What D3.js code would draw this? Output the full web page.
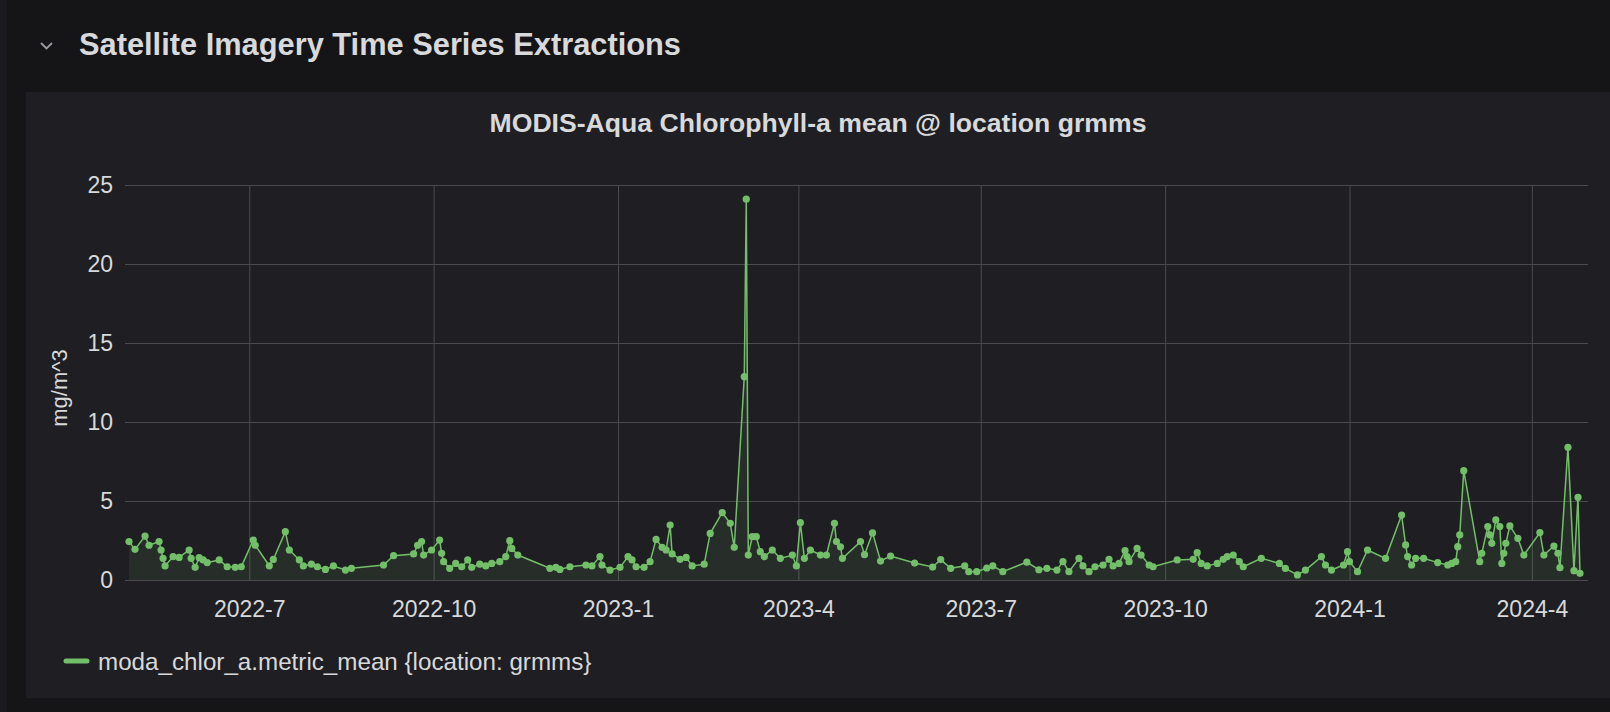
<!DOCTYPE html>
<html>
<head>
<meta charset="utf-8">
<script src="https://cdn.jsdelivr.net/npm/d3@7"></script>
<style>
  body { margin: 0; background: #141417; }
  svg text { font-family: "Liberation Sans", Arial, sans-serif; }
</style>
</head>
<body>
<svg id="chart" width="1610" height="712"></svg>
<script>
// chlorophyll-a mean readings (mg/m^3)
const dates = [
  "2022-05-02","2022-05-05","2022-05-10","2022-05-12","2022-05-17","2022-05-18","2022-05-19","2022-05-20",
  "2022-05-24","2022-05-27","2022-06-01","2022-06-02","2022-06-04","2022-06-06","2022-06-08","2022-06-10",
  "2022-06-16","2022-06-20","2022-06-24","2022-06-27","2022-07-03","2022-07-04","2022-07-11","2022-07-13",
  "2022-07-19","2022-07-21","2022-07-26","2022-07-28","2022-08-01","2022-08-04","2022-08-08","2022-08-12",
  "2022-08-18","2022-08-21","2022-09-06","2022-09-11","2022-09-21","2022-09-23","2022-09-25","2022-09-26",
  "2022-09-30","2022-10-04","2022-10-05","2022-10-06","2022-10-09","2022-10-12","2022-10-15","2022-10-18",
  "2022-10-20","2022-10-24","2022-10-27","2022-10-30","2022-11-03","2022-11-06","2022-11-08","2022-11-09",
  "2022-11-12","2022-11-28","2022-12-01","2022-12-03","2022-12-08","2022-12-16","2022-12-19","2022-12-23",
  "2022-12-24","2022-12-28","2023-01-02","2023-01-06","2023-01-08","2023-01-10","2023-01-14","2023-01-17",
  "2023-01-20","2023-01-23","2023-01-25","2023-01-27","2023-01-28","2023-02-01","2023-02-04","2023-02-07",
  "2023-02-13","2023-02-16","2023-02-22","2023-02-26","2023-02-28","2023-03-05","2023-03-06","2023-03-07",
  "2023-03-09","2023-03-11","2023-03-13","2023-03-15","2023-03-19","2023-03-23","2023-03-29","2023-03-31",
  "2023-04-02","2023-04-04","2023-04-07","2023-04-12","2023-04-15","2023-04-19","2023-04-20","2023-04-22",
  "2023-04-23","2023-05-02","2023-05-04","2023-05-08","2023-05-12","2023-05-17","2023-05-29","2023-06-07",
  "2023-06-11","2023-06-16","2023-06-23","2023-06-25","2023-06-29","2023-07-04","2023-07-07","2023-07-12",
  "2023-07-24","2023-07-30","2023-08-03","2023-08-08","2023-08-11","2023-08-14","2023-08-19","2023-08-21",
  "2023-08-24","2023-08-27","2023-08-31","2023-09-03","2023-09-05","2023-09-08","2023-09-11","2023-09-12",
  "2023-09-13","2023-09-17","2023-09-19","2023-09-23","2023-09-25","2023-10-07","2023-10-15","2023-10-17",
  "2023-10-19","2023-10-22","2023-10-27","2023-10-30","2023-11-01","2023-11-04","2023-11-07","2023-11-09",
  "2023-11-18","2023-11-27","2023-11-30","2023-12-06","2023-12-10","2023-12-18","2023-12-20","2023-12-23",
  "2023-12-29","2023-12-31","2024-01-01","2024-01-05","2024-01-10","2024-01-19","2024-01-27","2024-01-29",
  "2024-01-30","2024-02-01","2024-02-03","2024-02-07","2024-02-14","2024-02-19","2024-02-21","2024-02-23",
  "2024-02-24","2024-02-25","2024-02-27","2024-03-06","2024-03-07","2024-03-10","2024-03-11","2024-03-12",
  "2024-03-14","2024-03-16","2024-03-17","2024-03-18","2024-03-19","2024-03-21","2024-03-25","2024-03-28",
  "2024-04-05","2024-04-07","2024-04-12","2024-04-14","2024-04-15","2024-04-19","2024-04-22","2024-04-24",
  "2024-04-25"
];
const values = [
  2.43,1.94,2.78,2.2,2.43,1.9,1.37,0.89,
  1.48,1.43,1.9,1.37,0.8,1.41,1.27,1.1,
  1.27,0.84,0.8,0.84,2.53,2.2,0.9,1.3,
  3.06,1.9,1.27,0.89,1.0,0.84,0.67,0.89,
  0.63,0.74,0.95,1.54,1.65,2.2,2.43,1.58,
  1.9,2.53,1.69,1.16,0.74,1.05,0.84,1.27,
  0.8,1.0,0.89,1.05,1.16,1.48,2.49,2.0,
  1.58,0.74,0.8,0.67,0.84,0.95,0.89,1.48,
  0.95,0.63,0.8,1.48,1.27,0.84,0.8,1.16,
  2.57,2.07,1.9,3.48,1.65,1.31,1.43,0.89,
  1.0,2.95,4.26,3.59,2.07,12.87,24.1,1.58,
  2.74,2.74,1.79,1.48,1.9,1.37,1.58,0.89,
  3.63,1.37,1.9,1.58,1.58,3.59,2.43,2.1,
  1.37,2.43,1.6,2.98,1.2,1.52,1.07,0.82,
  1.29,0.74,0.89,0.53,0.53,0.76,0.89,0.53,
  1.13,0.65,0.74,0.63,1.16,0.53,1.37,0.89,
  0.53,0.84,0.95,1.31,0.89,1.05,1.86,1.48,
  1.16,2.0,1.58,0.95,0.84,1.27,1.31,1.73,
  1.05,0.89,1.05,1.31,1.48,1.58,1.16,0.84,
  1.37,1.05,0.74,0.32,0.63,1.48,0.95,0.63,
  0.95,1.79,1.16,0.53,1.9,1.37,4.11,2.22,
  1.48,0.95,1.37,1.37,1.1,0.95,1.05,1.16,
  2.11,2.85,6.92,1.16,1.69,3.38,2.85,2.32,
  3.8,3.38,1.05,1.69,2.32,3.42,2.64,1.58,
  3.0,1.58,2.15,1.69,0.78,8.4,0.59,5.23,
  0.42
];
const yTicks = [0, 5, 10, 15, 20, 25];
const xTicks = ["2022-07-01","2022-10-01","2023-01-01","2023-04-01","2023-07-01","2023-10-01","2024-01-01","2024-04-01"];
const timeRange = ["2022-04-30", "2024-04-29"];

const sectionTitle = "Satellite Imagery Time Series Extractions";
const panelTitle = "MODIS-Aqua Chlorophyll-a mean @ location grmms";
const yLabel = "mg/m^3";
const seriesName = "moda_chlor_a.metric_mean {location: grmms}";

let parse = d3.utcParse("%Y-%m-%d");
let data = dates.map((d, i) => ({ t: parse(d), v: values[i] }));

let svg = d3.select("#chart");
let green = "#73bf69";
let textColor = "#d8d9da";

// page / panel background
svg.append("rect").attr("width", 1610).attr("height", 712).attr("fill", "#151518");
svg.append("rect").attr("x", 0).attr("y", 0).attr("width", 7).attr("height", 712).attr("fill", "#1b1b1f");
svg.append("rect").attr("x", 26).attr("y", 92).attr("width", 1584).attr("height", 606).attr("fill", "#1f1f23");

// collapsible row header
svg.append("path")
  .attr("d", "M41,43 L46.5,48.5 L52,43")
  .attr("fill", "none")
  .attr("stroke", "#9a9aa0")
  .attr("stroke-width", 1.8);
svg.append("text")
  .attr("x", 79).attr("y", 55)
  .attr("fill", textColor)
  .attr("font-size", 30.8)
  .attr("font-weight", "bold")
  .text(sectionTitle);

svg.append("text")
  .attr("x", 818).attr("y", 132)
  .attr("text-anchor", "middle")
  .attr("fill", textColor)
  .attr("font-size", 26.6)
  .attr("font-weight", "bold")
  .text(panelTitle);

// plot area
let plotLeft = 125, plotRight = 1588, plotTop = 185, plotBottom = 580;
let w = plotRight - plotLeft, h = plotBottom - plotTop;

let xScale = d3.scaleUtc().domain(timeRange.map(parse)).range([0, w]);
let yScale = d3.scaleLinear().domain([0, 25]).range([h, 0]);

let g = svg.append("g").attr("transform", "translate(" + plotLeft + "," + plotTop + ")");

let yAxis = d3.axisLeft(yScale)
  .tickValues(yTicks)
  .tickSize(-w)
  .tickPadding(12);
let xAxis = d3.axisBottom(xScale)
  .tickValues(xTicks.map(parse))
  .tickSize(-h)
  .tickPadding(21)
  .tickFormat(d => d.getUTCFullYear() + "-" + (d.getUTCMonth() + 1));

let gy = g.append("g").call(yAxis);
let gx = g.append("g").attr("transform", "translate(0," + h + ")").call(xAxis);

[gx, gy].forEach(ax => {
  ax.select(".domain").remove();
  ax.selectAll(".tick line").attr("stroke", "#4a4a50").attr("stroke-width", 1);
  ax.selectAll(".tick text")
    .attr("fill", textColor)
    .attr("font-size", 23)
    .attr("font-family", "'Liberation Sans', Arial, sans-serif");
});

svg.append("text")
  .attr("transform", "translate(67,388) rotate(-90)")
  .attr("text-anchor", "middle")
  .attr("fill", textColor)
  .attr("font-size", 22)
  .text(yLabel);

// series: area, line, points
let area = d3.area()
  .x(d => xScale(d.t))
  .y0(yScale(0))
  .y1(d => yScale(d.v));
let line = d3.line()
  .x(d => xScale(d.t))
  .y(d => yScale(d.v));

g.append("path")
  .attr("d", area(data))
  .attr("fill", green)
  .attr("fill-opacity", 0.1);
g.append("path")
  .attr("d", line(data))
  .attr("fill", "none")
  .attr("stroke", green)
  .attr("stroke-width", 1.5);
g.selectAll("circle.pt")
  .data(data)
  .join("circle")
  .attr("class", "pt")
  .attr("cx", d => xScale(d.t))
  .attr("cy", d => yScale(d.v))
  .attr("r", 3.6)
  .attr("fill", green);

// legend
svg.append("line")
  .attr("x1", 66).attr("x2", 87)
  .attr("y1", 661).attr("y2", 661)
  .attr("stroke", green)
  .attr("stroke-width", 5)
  .attr("stroke-linecap", "round");
svg.append("text")
  .attr("x", 98).attr("y", 670)
  .attr("fill", textColor)
  .attr("font-size", 24.2)
  .text(seriesName);
</script>
</body>
</html>
